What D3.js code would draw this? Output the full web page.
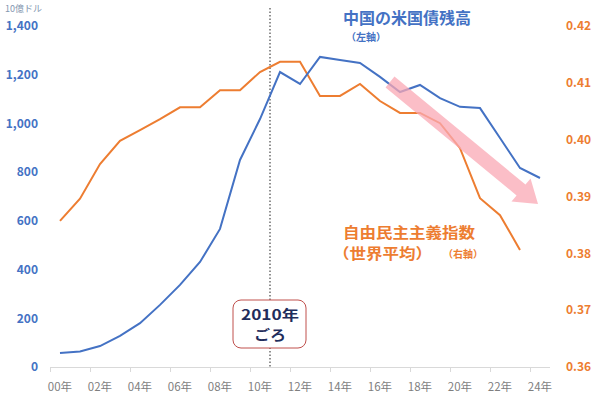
<!DOCTYPE html>
<html>
<head>
<meta charset="utf-8">
<script src="https://cdn.jsdelivr.net/npm/d3@7"></script>
<style>
  body { margin: 0; background: #fff; }
  text { font-family: "Noto Sans CJK JP", "Noto Sans", sans-serif; }
</style>
</head>
<body>
<svg id="chart" width="600" height="398"></svg>
<script>
// years on the category axis (2000 - 2024)
const years = ['00','01','02','03','04','05','06','07','08','09','10','11','12',
               '13','14','15','16','17','18','19','20','21','22','23','24'];

// China's holdings of US Treasuries, billions USD (left axis)
const treasury = [57, 64, 86, 128, 180, 255, 337, 431, 567, 850, 1018, 1211, 1162,
                  1273, 1260, 1248, 1191, 1129, 1158, 1104, 1068, 1063, 940, 817, 776];

// Liberal democracy index, world average (right axis), no value for 2024
const democracy = [0.3857, 0.3896, 0.3957, 0.3998, 0.4017, 0.4036, 0.4057, 0.4057, 0.4087,
                   0.4087, 0.4119, 0.4137, 0.4137, 0.4077, 0.4077, 0.4098, 0.4068, 0.4047,
                   0.4047, 0.4029, 0.3985, 0.3897, 0.3867, 0.3806, null];

const leftTicks = [0, 200, 400, 600, 800, 1000, 1200, 1400];
const rightTicks = [0.36, 0.37, 0.38, 0.39, 0.40, 0.41, 0.42];

const blue = '#4472c4';
const orange = '#ed7d31';

const svg = d3.select('#chart');

const x = d3.scaleBand().domain(years).range([50, 550]).padding(0);
const yL = d3.scaleLinear().domain([0, 1400]).range([367, 26]);
const yR = d3.scaleLinear().domain([0.36, 0.42]).range([367, 26]);
const cx = d => x(d) + x.bandwidth() / 2;

// unit label
svg.append('text').attr('x', 5).attr('y', 12)
    .attr('font-size', 9).attr('fill', '#8497b0').text('10億ドル');

// left axis labels
svg.selectAll('.ltick').data(leftTicks).enter().append('text')
    .attr('class', 'ltick')
    .attr('x', 38).attr('y', d => yL(d)).attr('dy', '0.36em')
    .attr('text-anchor', 'end').attr('font-size', 12).attr('font-weight', 'bold')
    .attr('fill', blue)
    .text(d => d3.format(',')(d));

// right axis labels
svg.selectAll('.rtick').data(rightTicks).enter().append('text')
    .attr('class', 'rtick')
    .attr('x', 566).attr('y', d => yR(d)).attr('dy', '0.36em')
    .attr('font-size', 12).attr('font-weight', 'bold')
    .attr('fill', orange)
    .text(d => d.toFixed(2));

// x axis
const xAxis = svg.append('g');
xAxis.append('line')
    .attr('x1', 50).attr('x2', 550).attr('y1', 367.5).attr('y2', 367.5)
    .attr('stroke', '#d9d9d9').attr('stroke-width', 1);
const tickYears = years.filter((d, i) => i % 2 == 0);
xAxis.selectAll('.xt').data(tickYears).enter().append('line')
    .attr('x1', d => x(d) + 0.5).attr('x2', d => x(d) + 0.5)
    .attr('y1', 367).attr('y2', 372)
    .attr('stroke', '#d9d9d9');
xAxis.selectAll('.xl').data(tickYears).enter().append('text')
    .attr('x', d => cx(d)).attr('y', 387).attr('dy', '0.36em')
    .attr('text-anchor', 'middle').attr('font-size', 11.5).attr('fill', '#7f7f7f')
    .text(d => d + '年');

// dotted 2010 line
const divX = x('10') + x.bandwidth();
svg.append('line')
    .attr('x1', divX).attr('x2', divX).attr('y1', 8).attr('y2', 367)
    .attr('stroke', '#222').attr('stroke-width', 1).attr('stroke-dasharray', '1.5,2');

// lines
const lineL = d3.line().x((d, i) => cx(years[i])).y(d => yL(d));
const lineR = d3.line().defined(d => d != null).x((d, i) => cx(years[i])).y(d => yR(d));

svg.append('path').datum(democracy).attr('d', lineR)
    .attr('fill', 'none').attr('stroke', orange).attr('stroke-width', 2);
svg.append('path').datum(treasury).attr('d', lineL)
    .attr('fill', 'none').attr('stroke', blue).attr('stroke-width', 2);

// pink trend arrow
const a0 = [390, 82], a1 = [538, 204];
const ang = Math.atan2(a1[1] - a0[1], a1[0] - a0[0]);
const len = Math.hypot(a1[0] - a0[0], a1[1] - a0[1]);
const sw = 7, hw = 15, hl = 22;
const arrowPts = [[0, -sw], [len - hl, -sw], [len - hl, -hw], [len, 0],
                  [len - hl, hw], [len - hl, sw], [0, sw]];
svg.append('polygon')
    .attr('points', arrowPts.map(p => p.join(',')).join(' '))
    .attr('transform', `translate(${a0[0]},${a0[1]}) rotate(${ang * 180 / Math.PI})`)
    .attr('fill', '#f9a8b4').attr('opacity', 0.75);

// series annotations
svg.append('text').attr('x', 343).attr('y', 24)
    .attr('font-size', 16).attr('font-weight', 'bold').attr('fill', blue)
    .text('中国の米国債残高');
svg.append('text').attr('x', 346).attr('y', 41)
    .attr('font-size', 10).attr('font-weight', 'bold').attr('fill', blue)
    .text('（左軸）');

// wide-ish glyphs like the original: smaller size, stretched to width
svg.append('text').attr('x', 343).attr('y', 238)
    .attr('font-size', 14.5).attr('font-weight', 'bold').attr('fill', orange)
    .attr('textLength', 132).attr('lengthAdjust', 'spacingAndGlyphs')
    .text('自由民主主義指数');
svg.append('text').attr('x', 333).attr('y', 259)
    .attr('font-size', 14.5).attr('font-weight', 'bold').attr('fill', orange)
    .attr('textLength', 99).attr('lengthAdjust', 'spacingAndGlyphs')
    .text('（世界平均）');
svg.append('text').attr('x', 443).attr('y', 258)
    .attr('font-size', 10).attr('font-weight', 'bold').attr('fill', orange)
    .text('（右軸）');

// 2010 callout box
svg.append('rect')
    .attr('x', 233).attr('y', 300).attr('width', 73).attr('height', 48)
    .attr('rx', 8).attr('fill', '#fff').attr('stroke', '#c0504d').attr('stroke-width', 1);
svg.append('text').attr('x', 241).attr('y', 320)
    .attr('font-size', 13.8).attr('font-weight', 'bold').attr('fill', '#1f2d5c')
    .attr('textLength', 58).attr('lengthAdjust', 'spacingAndGlyphs')
    .text('2010年');
svg.append('text').attr('x', 254).attr('y', 340)
    .attr('font-size', 13.8).attr('font-weight', 'bold').attr('fill', '#1f2d5c')
    .attr('textLength', 32).attr('lengthAdjust', 'spacingAndGlyphs')
    .text('ごろ');
</script>
</body>
</html>
